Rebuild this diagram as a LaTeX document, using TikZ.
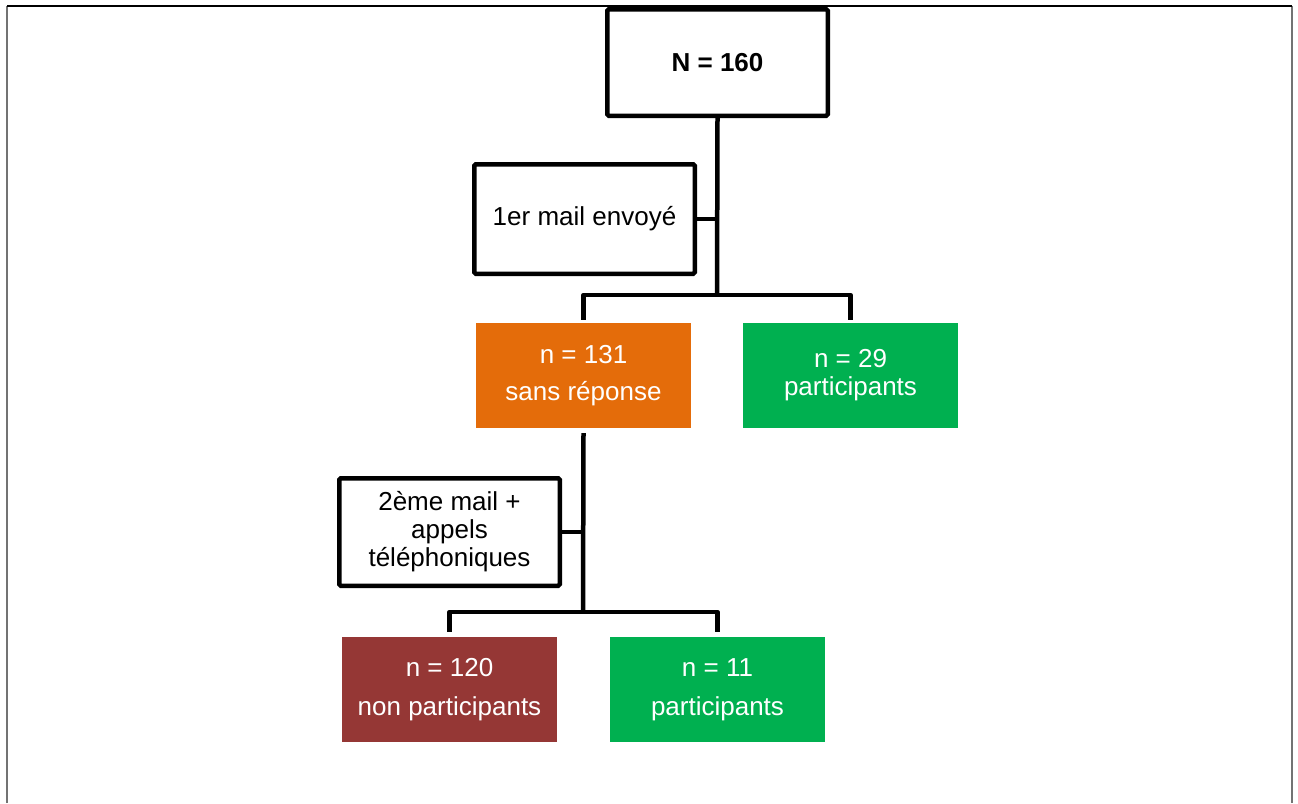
\documentclass[tikz,border=0pt]{standalone}
\usepackage{fontspec}
\setmainfont{Liberation Sans}
\definecolor{orangeF}{HTML}{E46C0A}
\definecolor{greenF}{HTML}{00B050}
\definecolor{redF}{HTML}{953735}
\begin{document}
\begin{tikzpicture}[x=1pt,y=-1pt,
  wbox/.style={draw=black, line width=4.5pt, rounded corners=1.5pt, fill=white, inner sep=0pt,
    minimum width=220.5pt, align=center, font=\fontsize{26}{28}\selectfont},
  cbox/.style={draw=none, inner sep=0pt, minimum width=215pt, minimum height=105pt,
    align=center, text=white},
  conn/.style={draw=black, line width=4.5pt, line join=round},
  frameline/.style={draw=black!55, line width=2pt}]
\useasboundingbox (0,0) rectangle (1298,803);
% outer frame
\draw[frameline] (7,803) -- (7,6);
\draw[frameline] (1292,803) -- (1292,6);
\draw[black, line width=1.5pt] (7,6) -- (1292,6);
% nodes
\node[wbox, minimum height=106.5pt, font=\fontsize{26}{28}\selectfont\bfseries] (N) at (717.5,62.5) {N = 160};
\node[wbox, minimum height=109.5pt] (m1) at (584.5,219) {1er mail envoyé};
\node[cbox, fill=orangeF, font=\fontsize{26}{37}\selectfont] (o) at (583.5,375.5) {n = 131\\sans réponse};
\node[cbox, fill=greenF, font=\fontsize{26}{28}\selectfont] (g1) at (850.5,375.5) {n = 29\\participants};
\node[wbox, minimum height=107.5pt, font=\fontsize{26}{28}\selectfont] (m2) at (449.5,532) {2ème mail +\\appels\\téléphoniques};
\node[cbox, fill=redF, font=\fontsize{26}{39}\selectfont] (r) at (449.5,689.5) {n = 120\\non participants};
\node[cbox, fill=greenF, font=\fontsize{26}{39}\selectfont] (g2) at (717.5,689.5) {n = 11\\participants};
% junctions
\coordinate (j1) at (717,295);
\coordinate (j2) at (583,612);
% connectors
\draw[conn] (N.south) -- (j1);
\draw[conn] ([yshift=3pt]o.north) |- (j1) -| ([yshift=3pt]g1.north);
\draw[conn] (m1.east) -- (m1.east -| j1);
\draw[conn] ([yshift=-5pt]o.south) -- (j2);
\draw[conn] ([yshift=5pt]r.north) |- (j2) -| ([yshift=5pt]g2.north);
\draw[conn] (m2.east) -- (m2.east -| j2);
\end{tikzpicture}
\end{document}
